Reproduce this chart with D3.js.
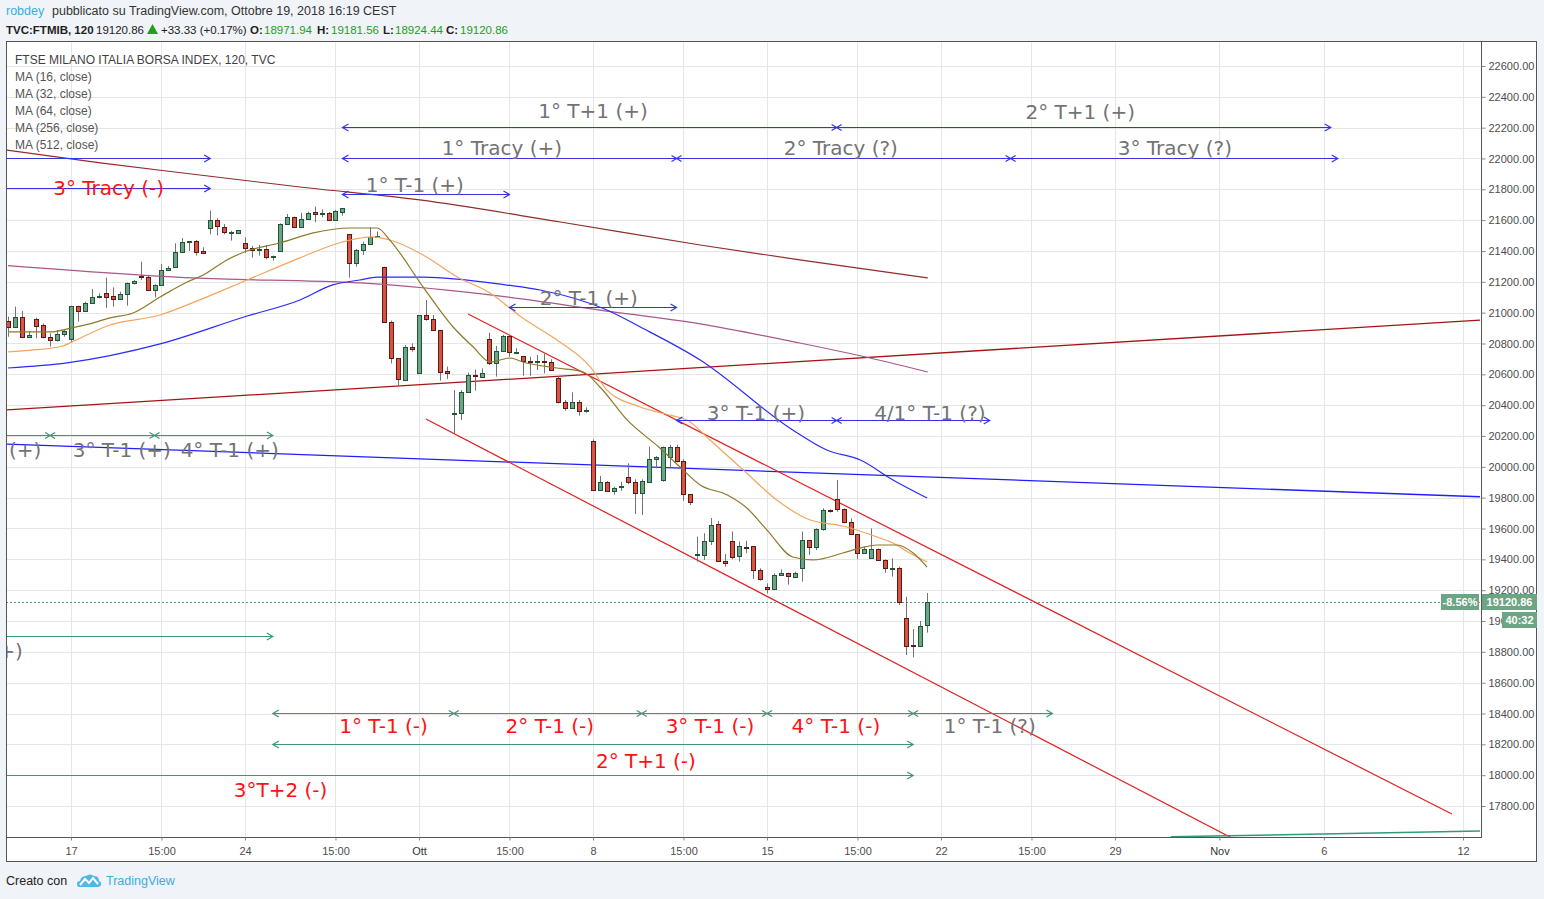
<!DOCTYPE html>
<html><head><meta charset="utf-8">
<script src="https://cdn.jsdelivr.net/npm/d3@7"></script>
<style>
body{margin:0;background:#f0f3f7;}
svg{display:block;font-family:"Liberation Sans",Arial,sans-serif;}
</style>
</head><body>
<svg id="c" width="1544" height="899"></svg>
<script>
// ---------------- DATA ----------------
const firstIndex = -9; // bar index of first visible 120-min candle (0 = Mon 17 Sep 09:00)
const opens = [20946,20909,20972,20840,20959,20918,20842,20821,20859,
 20827,21041,21009,21061,21100,21125,21108,21086,21119,21190,21238,21229,21145,21177,21275,21298,21394,21456,21465,21400,
 21547,21599,21553,21521,21519,21450,21417,21406,21411,21359,21398,21573,21618,21553,21605,21651,21638,21644,21599,21651,
 21508,21320,21407,21443,21497,21298,20942,20704,20561,20777,20606,20983,20959,20885,20622,20340,20347,20483,20596,20585,
 20827,20671,20751,20849,20740,20719,20684,20680,20684,20678,20574,20423,20379,20421,20366,20170,19848,19900,19841,19867,
 19932,19900,19828,19904,20049,19915,20066,20127,20040,19822,19426,19430,19517,19627,19391,19521,19419,19482,19484,19331,
 19218,19205,19296,19313,19288,19342,19525,19480,19595,19720,19793,19724,19640,19562,19439,19411,19465,19396,19342,19342,
 19017,18842,18840,18971.94];
const highs = [20974,21039,21011,20877,20968,20930,20866,20888,20892,
 21045,21045,21071,21153,21125,21227,21164,21136,21195,21212,21331,21238,21184,21316,21302,21450,21484,21465,21471,21424,
 21662,21612,21575,21532,21536,21489,21433,21439,21439,21370,21579,21640,21623,21649,21655,21688,21670,21653,21666,21677,
 21508,21413,21461,21553,21525,21298,20948,20704,20790,20801,20983,21082,20985,20885,20650,20498,20498,20611,20632,20639,
 20870,20784,20855,20855,20769,20719,20715,20725,20732,20697,20585,20434,20483,20434,20386,20178,19941,19908,19871,19904,
 20023,19919,19919,20131,20070,20131,20142,20142,20049,19822,19547,19569,19668,19649,19435,19580,19515,19521,19484,19342,
 19244,19309,19335,19313,19320,19580,19525,19601,19731,19724,19915,19731,19666,19562,19482,19601,19471,19400,19406,19352,
 19158,18948,19000,19181.56];
const lows = [20844,20900,20835,20835,20834,20834,20780,20812,20844,
 20805,20942,21006,21058,21093,21032,21039,21082,21045,21182,21212,21140,21099,21173,21270,21292,21389,21400,21370,21381,
 21508,21500,21508,21467,21515,21389,21357,21370,21346,21337,21398,21573,21553,21553,21601,21586,21618,21595,21595,21629,
 21227,21298,21374,21443,21493,20942,20671,20524,20561,20747,20606,20948,20883,20559,20570,20217,20304,20481,20494,20580,
 20660,20585,20747,20715,20736,20591,20591,20628,20606,20624,20412,20364,20375,20332,20351,19848,19848,19843,19819,19845,
 19887,19694,19688,19902,19990,19904,19997,20029,19780,19752,19385,19396,19493,19389,19352,19400,19385,19439,19273,19262,
 19179,19201,19292,19236,19283,19255,19428,19460,19586,19703,19709,19634,19558,19400,19435,19406,19391,19313,19288,19104,
 18779,18764,18838,18924.44];
const closes = [20909,20972,20840,20855,20916,20840,20821,20859,20881,
 21041,21009,21061,21100,21108,21100,21086,21121,21190,21205,21229,21145,21177,21277,21292,21394,21458,21465,21396,21385,
 21599,21562,21521,21525,21534,21417,21406,21413,21359,21365,21575,21618,21553,21605,21644,21638,21644,21599,21657,21677,
 21320,21406,21445,21493,21499,20942,20704,20568,20777,20762,20983,20957,20885,20617,20611,20347,20483,20596,20589,20606,
 20671,20751,20849,20745,20747,20686,20680,20684,20680,20626,20423,20379,20421,20364,20370,19848,19900,19843,19865,19876,
 19900,19828,19908,20049,20062,20131,20127,20038,19822,19770,19435,19519,19621,19389,19374,19417,19486,19480,19331,19275,
 19205,19296,19313,19290,19313,19525,19482,19595,19720,19711,19724,19642,19562,19439,19465,19465,19396,19342,19344,19125,
 18840,18838,18970,19120.86];

// moving averages: [bar index, value]
const ma16 = [[-9.05,20875],[-3,20875],[0.14,20901],[2.7,20927],[5.6,20966],[8.9,20998],[12.8,21102],[16.7,21199],[19,21244],
 [22.4,21342],[25.3,21400],[30,21452],[34.8,21517],[40.1,21549],[44,21549],[45.8,21471],[50.6,21166],[54.9,20907],[57.8,20777],
 [60.2,20680],[63.1,20706],[64.9,20680],[69.8,20641],[73.6,20615],[76,20518],[79.9,20304],[84.6,20122],[87.5,19999],[90.4,19882],
 [94.3,19817],[97.1,19733],[100,19590],[103.7,19415],[106.6,19396],[110.9,19441],[113.4,19473],[115.8,19493],[118.7,19493],
 [121,19441],[123,19350]];
const ma32 = [[-9.05,20745],[-5.46,20758],[-1.15,20784],[0.14,20810],[5.6,20920],[12.8,20985],[18.5,21083],[25.3,21212],
 [32.9,21355],[37.6,21439],[43.4,21491],[45.8,21471],[50.6,21374],[55.5,21231],[60.2,21128],[64.9,20965],[69.8,20823],
 [74.6,20648],[77,20498],[81.8,20388],[86.5,20330],[88.5,20304],[91.8,20174],[96.6,19979],[101.4,19785],[106.2,19655],
 [110.9,19616],[115.8,19545],[118.1,19506],[120.5,19441],[123,19383]];
const ma64 = [[-9.05,20641],[-0.57,20674],[12.8,20797],[25.3,20978],[32.9,21082],[37.6,21180],[41.5,21212],[44,21231],
 [50.6,21231],[62.6,21179],[67.4,21147],[77,21017],[81.8,20907],[90.4,20693],[103.7,20239],[108.6,20109],[113.4,20044],
 [118.1,19915],[123,19798]];
const ma256 = [[-9.05,21305],[17.5,21225],[41.5,21193],[62.6,21102],[76,21017],[90.4,20927],[104.7,20803],[114.8,20706],[123.1,20615]];
const ma512 = [[-9.3,22055],[4.2,21971],[18.5,21893],[32.9,21815],[50.1,21731],[70.3,21588],[90.4,21439],[104.7,21342],[123.1,21225]];

// trend lines drawn on the chart: [bar index, price]
const trendSupport = [[-9.34,20369],[202.44,20952]];
const trendBlue = [[-9.34,20148],[202.44,19806]];
const channelUpper = [[57.04,20991],[198.4,17748]];
const channelLower = [[51.0,20310],[168.0,17564]];
const trendTeal = [[158,17600],[202.44,17638]];

// date-range arrows: level price, and [bar index, end mark]
const arrowKind = ["up","up","up","up","up","up","up","down","down","down","down","down"];
const arrowPrice = [22204.3,22003.2,22003.2,21808.6,21769.7,21036.7,20303.8,20206.5,18902.7,18403.2,18202.1,18001.1];
const arrowMarks = [
 [[39,"<"],[110,"x"],[181,">"]],
 [[-10,""],[20,">"]],
 [[39,"<"],[87,"x"],[135,"x"],[182,">"]],
 [[-10,""],[20,">"]],
 [[39,"<"],[63,">"]],
 [[63,"<"],[87,">"]],
 [[87,"<"],[110,"x"],[132,">"]],
 [[-10,""],[-3,"x"],[12,"x"],[29,">"]],
 [[-10,""],[29,">"]],
 [[29,"<"],[55,"x"],[82,"x"],[100,"x"],[121,"x"],[141,">"]],
 [[29,"<"],[121,">"]],
 [[-10,""],[121,">"]]
];

// text notes
const noteText = ["1° T+1 (+)","2° T+1 (+)","1° Tracy (+)","2° Tracy (?)","3° Tracy (?)","3° Tracy (-)","1° T-1 (+)",
 "2° T-1 (+)","3° T-1 (+)","4/1° T-1 (?)","2° T-1 (+)","3° T-1 (+)","4° T-1 (+)","3° T+1 (+)",
 "1° T-1 (-)","2° T-1 (-)","3° T-1 (-)","4° T-1 (-)","1° T-1 (?)","2° T+1 (-)","3°T+2 (-)"];
const noteIdx = [75.0,145.0,61.9,110.6,158.6,5.4,49.4,74.4,98.4,123.4,-11.3,7.3,22.8,-14.8,44.9,68.8,91.8,109.9,132.0,82.6,30.1];
const notePrice = [22308,22302,22068,22068,22068,21809,21828,21095,20349,20349,20109,20109,20109,18805,
 18319,18319,18319,18319,18319,18092,17904];
const noteKind = ["n","n","n","n","n","r","n","n","n","n","n","n","n","n","r","r","r","r","n","r","r"];

// axes
const xTickIdx = [0,13,25,38,50,63,75,88,100,113,125,138,150,165,180,200];
const xTickLabels = ["17","15:00","24","15:00","Ott","15:00","8","15:00","15","15:00","22","15:00","29","Nov","6","12"];
const yTicks = [17800,18000,18200,18400,18600,18800,19000,19200,19400,19600,19800,20000,20200,20400,20600,20800,21000,21200,21400,21600,21800,22000,22200,22400,22600];
const lastPrice = 19120.86, changePct = "-8.56%", countdown = "40:32";
const legendTitle = "FTSE MILANO ITALIA BORSA INDEX, 120, TVC";
const legendMA = ["MA (16, close)","MA (32, close)","MA (64, close)","MA (256, close)","MA (512, close)"];

// ---------------- DRAW ----------------
const svg = d3.select("#c");
const L=6, R=1481, T=41, B=837;
const x = d3.scaleLinear().domain([-9.34,202.44]).range([6,1480]);
const y = d3.scaleLinear().domain([17599,22762]).range([837,41]);

// header
const hdr = svg.append("g").attr("font-size",12.5);
const h1 = hdr.append("text").attr("x",6).attr("y",15).attr("fill","#333");
h1.append("tspan").attr("fill","#3aaee0").text("robdey");
h1.append("tspan").attr("x",52).text("pubblicato su TradingView.com, Ottobre 19, 2018 16:19 CEST");
const g2 = svg.append("g").attr("font-size",11.5).attr("fill","#222");
g2.append("text").attr("x",6).attr("y",34).attr("font-weight","bold").text("TVC:FTMIB, 120");
g2.append("text").attr("x",96).attr("y",34).text(lastPrice.toFixed(2));
g2.append("path").attr("d","M147,34L152.5,24L158,34Z").attr("fill","#1fa01f");
g2.append("text").attr("x",161).attr("y",34).text("+33.33 (+0.17%)");
const ohlcLab = ["O:","H:","L:","C:"], ohlcX=[250,317,383,446], ohlcVX=[264,331,395,460];
const last = opens.length-1;
const ohlcV = [opens[last],highs[last],lows[last],closes[last]];
ohlcLab.forEach((t,k)=>{
  g2.append("text").attr("x",ohlcX[k]).attr("y",34).attr("font-weight","bold").text(t);
  g2.append("text").attr("x",ohlcVX[k]).attr("y",34).attr("fill","#22a022").text(ohlcV[k].toFixed(2));
});

// frame
svg.append("rect").attr("x",6.5).attr("y",41.5).attr("width",1530).attr("height",820)
  .attr("fill","#fff").attr("stroke","#555");

// clip
svg.append("defs").append("clipPath").attr("id","pc").append("rect")
  .attr("x",L+1).attr("y",T+1).attr("width",R-L-1).attr("height",B-T-1);
const plot = svg.append("g").attr("clip-path","url(#pc)");

// grid
plot.append("g").selectAll("line").data(yTicks).join("line")
  .attr("x1",L).attr("x2",R).attr("y1",d=>Math.round(y(d))+0.5).attr("y2",d=>Math.round(y(d))+0.5)
  .attr("stroke","#e6e6e6");
plot.append("g").selectAll("line").data(xTickIdx).join("line")
  .attr("y1",T).attr("y2",B).attr("x1",d=>Math.round(x(d))+0.5).attr("x2",d=>Math.round(x(d))+0.5)
  .attr("stroke","#e6e6e6");

// last price dotted line
plot.append("line").attr("x1",L).attr("x2",R).attr("y1",Math.round(y(lastPrice))+0.5).attr("y2",Math.round(y(lastPrice))+0.5)
  .attr("stroke","#4f9f78").attr("stroke-dasharray","2,2");

const line = d3.line().x(d=>x(d[0])).y(d=>y(d[1]));
const smooth = d3.line().x(d=>x(d[0])).y(d=>y(d[1])).curve(d3.curveMonotoneX);

// trend lines
[[trendSupport,"#a31414",1.3],[trendBlue,"#1f1fff",1.3],[channelUpper,"#e02020",1.2],[channelLower,"#e02020",1.2],[trendTeal,"#2f9a7c",1.5]]
 .forEach(([d,c,w])=>plot.append("path").attr("d",line(d)).attr("fill","none").attr("stroke",c).attr("stroke-width",w));

// candles
const candles = opens.map((o,k)=>({i:firstIndex+k,o,h:highs[k],l:lows[k],c:closes[k]}));
const cg = plot.append("g");
candles.forEach(d=>{
  const cx = Math.round(x(d.i));
  cg.append("line").attr("x1",cx+0.5).attr("x2",cx+0.5).attr("y1",y(d.h)).attr("y2",y(d.l)).attr("stroke","#737375");
  const up = d.c>=d.o;
  const top = y(Math.max(d.o,d.c)), bot = y(Math.min(d.o,d.c));
  cg.append("rect").attr("x",cx-2+0.5).attr("y",Math.round(top)+0.5).attr("width",4)
    .attr("height",Math.max(1,Math.round(bot)-Math.round(top)))
    .attr("fill",up?"#6ba583":"#d75442").attr("stroke",up?"#225437":"#5b1a13");
});

// moving averages
[[ma512,"#922b2b"],[ma256,"#a8588a"],[ma64,"#2a2aff"],[ma32,"#f5a45c"],[ma16,"#8c7a2a"]]
 .forEach(([d,c])=>plot.append("path").attr("d",smooth(d)).attr("fill","none").attr("stroke",c).attr("stroke-width",1.2));

// arrows
const kindColor = {up:"#3434e6",down:"#3c9a72"};
arrowPrice.forEach((p,k)=>{
  const marks = arrowMarks[k], col = kindColor[arrowKind[k]];
  const yy = Math.round(y(p))+0.5;
  const g = plot.append("g").attr("stroke",col).attr("fill","none").attr("stroke-width",1.2);
  g.append("line").attr("x1",x(marks[0][0])).attr("x2",x(marks[marks.length-1][0])).attr("y1",yy).attr("y2",yy);
  marks.forEach(([i,m])=>{
    const xx = x(i);
    if(m===">") g.append("path").attr("d",`M${xx-6},${yy-3.5}L${xx},${yy}L${xx-6},${yy+3.5}`);
    if(m==="<") g.append("path").attr("d",`M${xx+6},${yy-3.5}L${xx},${yy}L${xx+6},${yy+3.5}`);
    if(m==="x") g.append("path").attr("d",`M${xx-5},${yy-3}L${xx+5},${yy+3}M${xx-5},${yy+3}L${xx+5},${yy-3}`);
  });
});

// notes
const noteColor = {n:"#737373", r:"#ff1010"};
plot.append("g").selectAll("text").data(noteText).join("text")
  .attr("x",(d,k)=>x(noteIdx[k])).attr("y",(d,k)=>y(notePrice[k]))
  .attr("text-anchor","middle").attr("dominant-baseline","central")
  .attr("font-family","'DejaVu Sans',Verdana,sans-serif").attr("font-size",20)
  .attr("fill",(d,k)=>noteColor[noteKind[k]]).text(d=>d);

// legend
const lg = svg.append("g").attr("font-size",12).attr("fill","#555");
lg.append("text").attr("x",15).attr("y",64).attr("fill","#3f3f3f").text(legendTitle);
lg.selectAll("text.ma").data(legendMA).join("text").attr("class","ma")
  .attr("x",15).attr("y",(d,k)=>81+17*k).text(d=>d);

// axes lines
svg.append("line").attr("x1",R+0.5).attr("x2",R+0.5).attr("y1",T).attr("y2",B+1).attr("stroke","#555");
svg.append("line").attr("x1",L).attr("x2",R+1).attr("y1",B+0.5).attr("y2",B+0.5).attr("stroke","#555");

// y axis
const ya = svg.append("g").attr("transform",`translate(${R+0.5},0)`)
  .call(d3.axisRight(y).tickValues(yTicks).tickFormat(d=>d.toFixed(2)).tickSize(4).tickPadding(3));
ya.select(".domain").remove();
ya.selectAll("line").attr("stroke","#888");
ya.selectAll("text").attr("font-family","'Liberation Sans',Arial,sans-serif").attr("font-size",11).attr("fill","#4d4d4d");

// x axis
const xa = svg.append("g").attr("transform",`translate(0,${B+0.5})`)
  .call(d3.axisBottom(x).tickValues(xTickIdx).tickFormat((d,k)=>xTickLabels[k]).tickSize(3).tickPadding(7));
xa.select(".domain").remove();
xa.selectAll("line").attr("stroke","#888");
xa.selectAll("text").attr("font-family","'Liberation Sans',Arial,sans-serif").attr("font-size",11)
  .attr("fill",(d,k)=>(xTickLabels[k]==="Ott"||xTickLabels[k]==="Nov")?"#333":"#4d4d4d");

// price labels
const ly = Math.round(y(lastPrice));
const boxes = [[1441,ly-8,38,16,changePct],[1482,ly-8,55,16,lastPrice.toFixed(2)],[1502,ly+10,35,16,countdown]];
boxes.forEach(([bx,by,bw,bh,t])=>{
  svg.append("rect").attr("x",bx).attr("y",by).attr("width",bw).attr("height",bh).attr("fill","#6ba583");
  svg.append("text").attr("x",bx+bw/2).attr("y",by+bh/2).attr("text-anchor","middle").attr("dominant-baseline","central")
    .attr("font-size",11).attr("font-weight","bold").attr("fill","#fff").text(t);
});

// footer
svg.append("text").attr("x",6).attr("y",885).attr("font-size",12.5).attr("fill","#222").text("Creato con");
const logo = svg.append("g").attr("transform","translate(77,873)");
logo.append("path").attr("d","M2,14 Q0,14 0,11 Q0,8 3,8 Q4,3 9,3 Q13,0 17,3 Q22,3 22,8 Q25,9 24,12 Q23,14 21,14 Z").attr("fill","#4fb8e8");
logo.append("path").attr("d","M3,12 L8,6 L12,10 L16,5 L21,11").attr("fill","none").attr("stroke","#fff").attr("stroke-width",2);
svg.append("text").attr("x",106).attr("y",885).attr("font-size",12.5).attr("fill","#3aaee0").text("TradingView");
</script>
</body></html>
